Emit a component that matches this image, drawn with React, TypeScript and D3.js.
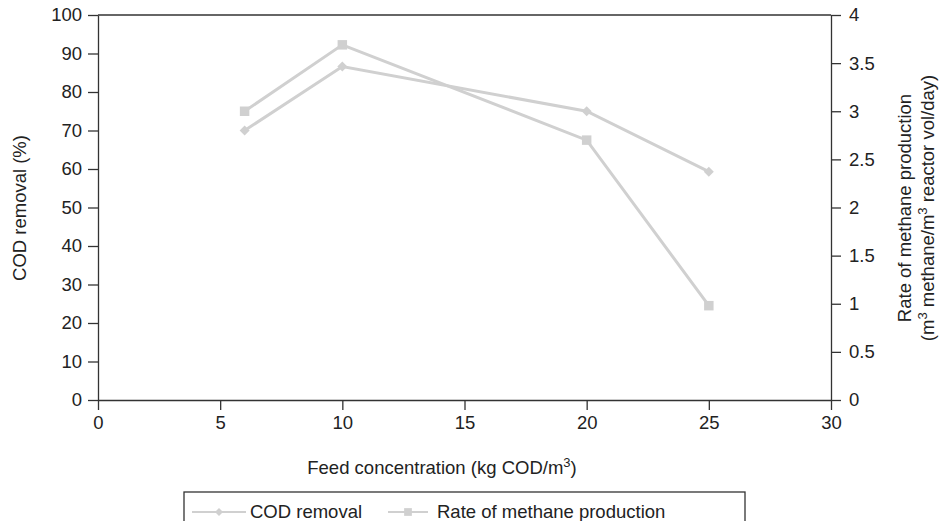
import * as d3 from 'd3'
import {useEffect, useRef} from 'react'

const feedConc = [6, 10, 20, 25]
const codRemoval = [70, 86.6, 75, 59.3]
const methaneRate = [3.0, 3.69, 2.7, 0.98]
const xTicks = [0, 5, 10, 15, 20, 25, 30]
const leftTicks = [0, 10, 20, 30, 40, 50, 60, 70, 80, 90, 100]
const rightTicks = [0, 0.5, 1, 1.5, 2, 2.5, 3, 3.5, 4]

const FONT = '"Liberation Sans", Arial, sans-serif'
const FS = '18.5px'
const LINE = '#d0d0d0'
const AXIS = '#333'

export default function App() {
  const ref = useRef<SVGSVGElement>(null)

  useEffect(() => {
    const svg = d3.select(ref.current)
    svg.selectAll('*').remove()
    const left = 98, right = 831, top = 15, bottom = 400

    const x = d3.scaleLinear().domain([0, 30]).range([left, right])
    const yL = d3.scaleLinear().domain([0, 100]).range([bottom, top])
    const yR = d3.scaleLinear().domain([0, 4]).range([bottom, top])

    const g = svg.append('g').style('font-family', FONT).style('font-size', FS).attr('fill', '#222')

    // top border
    g.append('line').attr('x1', left).attr('x2', right).attr('y1', top).attr('y2', top)
      .attr('stroke', AXIS).attr('stroke-width', 1.3)

    const axL = g.append('g').attr('transform', `translate(${left},0)`)
      .call(d3.axisLeft(yL).tickValues(leftTicks).tickSize(10).tickPadding(6).tickSizeOuter(0))
    const axR = g.append('g').attr('transform', `translate(${right},0)`)
      .call(d3.axisRight(yR).tickValues(rightTicks).tickSize(10).tickPadding(8).tickSizeOuter(0)
        .tickFormat(d => String(d)))
    const axB = g.append('g').attr('transform', `translate(0,${bottom})`)
      .call(d3.axisBottom(x).tickValues(xTicks).tickSize(10).tickPadding(6).tickSizeOuter(0))

    for (const ax of [axL, axR, axB]) {
      ax.selectAll('path, line').attr('stroke', AXIS).attr('stroke-width', 1.3)
      ax.selectAll('text').style('font-family', FONT).style('font-size', FS).attr('fill', '#222')
    }

    const series = [
      {vals: codRemoval, y: yL, rot: 45, name: 'COD removal'},
      {vals: methaneRate, y: yR, rot: 0, name: 'Rate of methane production'},
    ]

    for (const s of series) {
      const pts = feedConc.map((c, i) => [x(c), s.y(s.vals[i])] as [number, number])
      g.append('path').attr('d', d3.line()(pts)).attr('fill', 'none')
        .attr('stroke', LINE).attr('stroke-width', 3)
      g.selectAll(null).data(pts).enter().append('path')
        .attr('d', d3.symbol().type(d3.symbolSquare).size(s.rot ? 50 : 90)())
        .attr('transform', d => `translate(${d[0]},${d[1]}) rotate(${s.rot})`)
        .attr('fill', LINE)
    }

    // axis titles
    const xt = g.append('text').attr('x', 442).attr('y', 474).attr('text-anchor', 'middle')
    xt.append('tspan').text('Feed concentration (kg COD/m')
    xt.append('tspan').attr('dy', -7).style('font-size', '13px').text('3')
    xt.append('tspan').attr('dy', 7).text(')')

    g.append('text').attr('transform', `translate(26,208) rotate(-90)`).attr('text-anchor', 'middle')
      .text('COD removal (%)')

    g.append('text').attr('transform', `translate(911,208) rotate(-90)`).attr('text-anchor', 'middle')
      .text('Rate of methane production')
    const r2 = g.append('text').attr('transform', `translate(934,208) rotate(-90)`).attr('text-anchor', 'middle')
    r2.append('tspan').text('(m')
    r2.append('tspan').attr('dy', -7).style('font-size', '13px').text('3')
    r2.append('tspan').attr('dy', 7).text(' methane/m')
    r2.append('tspan').attr('dy', -7).style('font-size', '13px').text('3')
    r2.append('tspan').attr('dy', 7).text(' reactor vol/day)')

    // legend
    g.append('rect').attr('x', 184).attr('y', 492).attr('width', 561).attr('height', 42)
      .attr('fill', 'none').attr('stroke', AXIS).attr('stroke-width', 1.3)
    const legendX = [[192, 246, 248], [388, 428, 435]]
    series.forEach((s, i) => {
      const [x1, x2, tx] = legendX[i]
      g.append('line').attr('x1', x1).attr('x2', x2).attr('y1', 512).attr('y2', 512)
        .attr('stroke', LINE).attr('stroke-width', 2)
      g.append('path').attr('d', d3.symbol().type(d3.symbolSquare).size(s.rot ? 32 : 60)())
        .attr('transform', `translate(${(x1 + x2) / 2},512) rotate(${s.rot})`).attr('fill', LINE)
      g.append('text').attr('x', tx + 2).attr('y', 518).text(s.name)
    })
  }, [])

  return <svg ref={ref} width={950} height={529} style={{display: 'block', margin: '-8px'}} />
}
